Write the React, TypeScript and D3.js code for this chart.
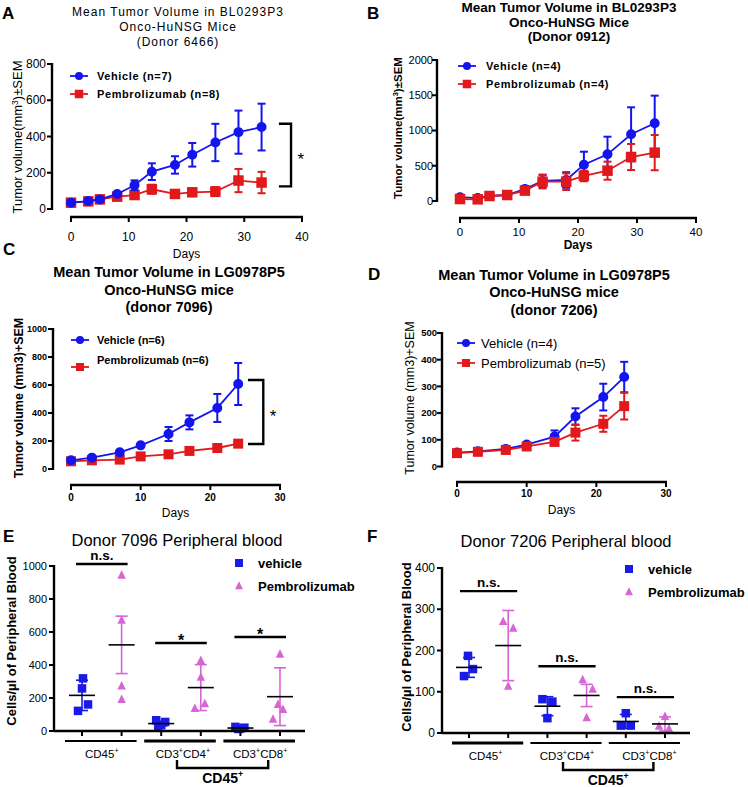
import React from "react";
import * as d3 from "d3";

const FONT = "Arial, 'Liberation Sans', Helvetica, sans-serif";
const BLUE = "#1414ee";
const RED = "#e2191c";
const PINK = "#d865d5";
const SQBLUE = "#1a1ae8";

// ---------- Panel A ----------
const daysA = [0, 3, 5, 8, 11, 14, 18, 21, 25, 29, 33];
const aVehicle = [35, 44, 53, 83, 131, 206, 243, 299, 367, 424, 452];
const aVehicleErr = [5, 5, 6, 10, 27, 46, 48, 65, 103, 119, 129];
const aPembro = [35, 42, 53, 68, 77, 109, 83, 92, 96, 157, 146];
const aPembroErr = [5, 5, 6, 10, 15, 25, 15, 20, 25, 64, 59];

// ---------- Panel B ----------
const daysB = [0, 3, 5, 8, 11, 14, 18, 21, 25, 29, 33];
const bVehicle = [52, 43, 71, 85, 170, 284, 298, 515, 662, 946, 1102];
const bVehicleErr = [10, 10, 10, 15, 40, 90, 110, 184, 250, 383, 392];
const bPembro = [28, 24, 71, 85, 147, 274, 274, 355, 430, 624, 686];
const bPembroErr = [10, 10, 10, 20, 40, 95, 118, 75, 128, 185, 250];

// ---------- Panel C ----------
const daysC = [0, 3, 7, 10, 14, 17, 21, 24];
const cVehicle = [62, 81, 119, 169, 250, 333, 436, 607];
const cVehicleErr = [6, 6, 8, 10, 50, 50, 100, 150];
const cPembro = [55, 62, 67, 90, 105, 129, 150, 181];
const cPembroErr = [5, 5, 5, 6, 6, 8, 10, 18];

// ---------- Panel D ----------
const daysD = [0, 3, 7, 10, 14, 17, 21, 24];
const dVehicle = [52, 57, 66, 82, 112, 187, 260, 335];
const dVehicleErr = [4, 4, 5, 6, 23, 31, 50, 57];
const dPembro = [50, 55, 62, 75, 92, 127, 160, 226];
const dPembroErr = [4, 4, 4, 5, 10, 30, 30, 50];

// ---------- Panel E ----------
const groups = ["CD45", "CD3CD4", "CD3CD8"];
const eVehiclePts = [[319, 258, 161, 122], [65, 55, 35, 25], [25, 20, 15, 12]];
const eVehicleJit = [[1, 0, 6, -4], [-5, 4, 0, -3], [-5, 4, 0, -2]];
const eVehicleMean = [216, 45, 18];
const eVehicleErr = [92, 15, 6];
const ePembroPts = [[943, 671, 272, 191], [427, 325, 165, 136], [465, 160, 130, 70]];
const ePembroJit = [[0, 0, 0, 0], [0, 0, 4, -6], [0, -2, 3, -7]];
const ePembroMean = [522, 263, 208];
const ePembroErr = [174, 139, 175];
const eSigText = ["n.s.", "*", "*"];
const eSigLevel = [1012, 533, 570];

// ---------- Panel F ----------
const fVehiclePts = [[187, 155, 138], [82, 76, 36], [48, 18, 18]];
const fVehicleJit = [[-1, 4, -5], [-5, 5, 0], [0, -5, 5]];
const fVehicleMean = [159, 65, 28];
const fVehicleErr = [24, 23, 17];
const fPembroPts = [[270, 254, 113], [129, 106, 37], [40, 16, 10]];
const fPembroJit = [[-5, 5, 0], [-4, 6, 0], [0, -6, 4]];
const fPembroMean = [212, 91, 22];
const fPembroErr = [85, 27, 17];
const fSigText = ["n.s.", "n.s.", "n.s."];
const fSigLevel = [344, 162, 87];

function Marker({ kind, cx, cy, size, color }: any) {
  if (kind === "circle") return <circle cx={cx} cy={cy} r={size / 2} fill={color} />;
  if (kind === "square")
    return <rect x={cx - size / 2} y={cy - size / 2} width={size} height={size} fill={color} />;
  const pts = `${cx},${cy - size * 0.6} ${cx - size / 2},${cy + size * 0.4} ${cx + size / 2},${cy + size * 0.4}`;
  return <polygon points={pts} fill={color} />;
}

function LinePanel(p: any) {
  const x = d3.scaleLinear().domain(p.xDomain).range(p.xRange);
  const y = d3.scaleLinear().domain(p.yDomain).range(p.yRange);
  const axisW = 2.4;
  return (
    <g fontFamily={FONT}>
      {p.series.map((s: any, si: number) => {
        const line = d3
          .line<number>()
          .x((_, i) => x(p.days[i]))
          .y((d) => y(d));
        return (
          <g key={si}>
            <path d={line(s.values) || ""} fill="none" stroke={s.color} strokeWidth={1.8} />
            {s.values.map((v: number, i: number) => {
              const e = s.err[i];
              const cx = x(p.days[i]);
              return (
                <g key={i} stroke={s.color} strokeWidth={2}>
                  <line x1={cx} x2={cx} y1={y(v - e)} y2={y(v + e)} />
                  <line x1={cx - 4} x2={cx + 4} y1={y(v + e)} y2={y(v + e)} />
                  <line x1={cx - 4} x2={cx + 4} y1={y(v - e)} y2={y(v - e)} />
                  <Marker kind={s.marker} cx={cx} cy={y(v)} size={s.size} color={s.color} />
                </g>
              );
            })}
          </g>
        );
      })}
      {/* y axis */}
      <line x1={p.yAxisX} x2={p.yAxisX} y1={y(p.yDomain[0]) + 1} y2={y(p.yDomain[1]) - 1} stroke="#000" strokeWidth={axisW} />
      {p.yTicks.map((t: number) => (
        <g key={t}>
          <line x1={p.yAxisX - 5} x2={p.yAxisX} y1={y(t)} y2={y(t)} stroke="#000" strokeWidth={2} />
          <text
            x={p.yAxisX - p.yTickGap}
            y={y(t)}
            dy="0.35em"
            textAnchor="end"
            fontSize={p.yTickFont}
            fontWeight={p.tickWeight}
          >
            {t}
          </text>
        </g>
      ))}
      {/* x axis */}
      <line x1={x(p.xDomain[0]) - 1} x2={x(p.xDomain[1]) + 1} y1={p.xAxisY} y2={p.xAxisY} stroke="#000" strokeWidth={axisW} />
      {p.xTicks.map((t: number) => (
        <g key={t}>
          <line x1={x(t)} x2={x(t)} y1={p.xAxisY} y2={p.xAxisY + 5} stroke="#000" strokeWidth={2} />
          <text x={x(t)} y={p.xAxisY + p.xLabelDy} textAnchor="middle" fontSize={p.tickFont} fontWeight={p.tickWeight}>
            {t}
          </text>
        </g>
      ))}
      <text
        x={(x(p.xDomain[0]) + x(p.xDomain[1])) / 2}
        y={p.daysY}
        textAnchor="middle"
        fontSize={p.daysFont}
        fontWeight={p.daysWeight}
      >
        Days
      </text>
      {p.bracket && (
        <g>
          <path
            d={`M${x(p.bracket.x0)},${y(p.bracket.top)} H${x(p.bracket.x1)} V${y(p.bracket.bottom)} H${x(p.bracket.x0)}`}
            fill="none"
            stroke="#000"
            strokeWidth={2.4}
          />
          <text
            x={x(p.bracket.starX)}
            y={(y(p.bracket.top) + y(p.bracket.bottom)) / 2 + 10}
            textAnchor="middle"
            fontSize={17}
          >
            *
          </text>
        </g>
      )}
    </g>
  );
}

function Legend({ x, y, gap, items, fontSize, fontWeight, letterSpacing, textDx }: any) {
  return (
    <g fontFamily={FONT}>
      {items.map((it: any, i: number) => {
        const yy = y + i * gap;
        const my = yy + (it.markerDy || 0);
        return (
          <g key={i}>
            <line x1={x} x2={x + 18} y1={my} y2={my} stroke={it.color} strokeWidth={1.8} />
            <Marker kind={it.marker} cx={x + 9} cy={my} size={it.size} color={it.color} />
            <text
              x={x + textDx}
              y={yy}
              dy="0.35em"
              fontSize={fontSize}
              fontWeight={fontWeight}
              letterSpacing={letterSpacing}
            >
              {it.label}
            </text>
          </g>
        );
      })}
    </g>
  );
}

function Title({ lines, cx, y0, gap, fontSize, fontWeight, letterSpacing }: any) {
  return (
    <g fontFamily={FONT}>
      {lines.map((l: string, i: number) => (
        <text
          key={i}
          x={cx}
          y={y0 + i * gap}
          textAnchor="middle"
          fontSize={fontSize}
          fontWeight={fontWeight}
          letterSpacing={letterSpacing}
        >
          {l}
        </text>
      ))}
    </g>
  );
}

function YLabel({ x, y, fontSize, fontWeight, children }: any) {
  return (
    <text
      transform={`translate(${x},${y}) rotate(-90)`}
      textAnchor="middle"
      fontFamily={FONT}
      fontSize={fontSize}
      fontWeight={fontWeight}
    >
      {children}
    </text>
  );
}

// render label with "+" superscripts: parts like ["CD3", "+", "CD4", "+"]
function SupText({ x, y, parts, fontSize, fontWeight }: any) {
  return (
    <text x={x} y={y} textAnchor="middle" fontFamily={FONT} fontSize={fontSize} fontWeight={fontWeight}>
      {parts.map((pt: string, i: number) =>
        pt === "+" ? (
          <tspan key={i} dy={-fontSize * 0.4} fontSize={fontSize * 0.62}>
            +
          </tspan>
        ) : (
          <tspan key={i} dy={i > 0 ? fontSize * 0.4 : 0}>
            {pt}
          </tspan>
        )
      )}
    </text>
  );
}

const groupParts: Record<string, string[]> = {
  CD45: ["CD45", "+"],
  CD3CD4: ["CD3", "+", "CD4", "+"],
  CD3CD8: ["CD3", "+", "CD8", "+"],
};

function ScatterPanel(p: any) {
  const keys: string[] = [];
  p.groups.forEach((g: string) => {
    keys.push(g + "-v");
    keys.push(g + "-p");
  });
  const x = d3.scalePoint<string>().domain(keys).range(p.xRange);
  const y = d3.scaleLinear().domain(p.yDomain).range(p.yRange);
  const y0 = y(0);
  const lastX = x(keys[keys.length - 1]) as number;
  const gCenter = (g: string) => ((x(g + "-v") as number) + (x(g + "-p") as number)) / 2;
  const drawGroup = (pts: number[][], jit: number[][], mean: number[], err: number[], color: string, kind: string, suffix: string) =>
    p.groups.map((g: string, gi: number) => {
      const cx = x(g + suffix) as number;
      return (
        <g key={g + suffix}>
          {pts[gi].map((v: number, i: number) => (
            <Marker key={i} kind={kind} cx={cx + jit[gi][i]} cy={y(v)} size={p.markerSize} color={color} />
          ))}
          <g stroke={color} strokeWidth={1.6}>
            <line x1={cx} x2={cx} y1={y(mean[gi] - err[gi])} y2={y(mean[gi] + err[gi])} />
            <line x1={cx - 6} x2={cx + 6} y1={y(mean[gi] + err[gi])} y2={y(mean[gi] + err[gi])} />
            <line x1={cx - 6} x2={cx + 6} y1={y(mean[gi] - err[gi])} y2={y(mean[gi] - err[gi])} />
          </g>
          <line x1={cx - 13} x2={cx + 13} y1={y(mean[gi])} y2={y(mean[gi])} stroke="#000" strokeWidth={1.6} />
        </g>
      );
    });
  return (
    <g fontFamily={FONT}>
      {drawGroup(p.vPts, p.vJit, p.vMean, p.vErr, SQBLUE, "square", "-v")}
      {drawGroup(p.pPts, p.pJit, p.pMean, p.pErr, PINK, "triangle", "-p")}
      {/* y axis */}
      <line x1={p.yAxisX} x2={p.yAxisX} y1={y0 + 1} y2={y(p.yDomain[1]) - 1} stroke="#000" strokeWidth={2.4} />
      {p.yTicks.map((t: number) => (
        <g key={t}>
          <line x1={p.yAxisX - 5} x2={p.yAxisX} y1={y(t)} y2={y(t)} stroke="#000" strokeWidth={2} />
          <text x={p.yAxisX - 7} y={y(t)} dy="0.35em" textAnchor="end" fontSize={p.yTickFont}>
            {t}
          </text>
        </g>
      ))}
      {/* x axis */}
      <line x1={p.yAxisX} x2={lastX + 25} y1={y0} y2={y0} stroke="#000" strokeWidth={2.6} />
      {keys.map((k) => (
        <line key={k} x1={x(k)} x2={x(k)} y1={y0} y2={y0 + 5} stroke="#000" strokeWidth={2} />
      ))}
      {/* group lines and labels */}
      {p.groups.map((g: string, gi: number) => (
        <g key={g}>
          <line
            x1={(x(g + "-v") as number) - 17}
            x2={(x(g + "-p") as number) + 15}
            y1={y0 + 10}
            y2={y0 + 10}
            stroke="#000"
            strokeWidth={p.groupLineW[gi]}
          />
          <SupText x={gCenter(g) + p.labelDx[gi]} y={y0 + 27} parts={groupParts[g]} fontSize={11.5} />
        </g>
      ))}
      {/* CD45+ bracket */}
      <path
        d={`M${gCenter(p.groups[1]) - 4},${y0 + 29} V${y0 + 37} H${gCenter(p.groups[2]) + 8} V${y0 + 29}`}
        fill="none"
        stroke="#000"
        strokeWidth={2.4}
      />
      <SupText
        x={(gCenter(p.groups[1]) + gCenter(p.groups[2])) / 2 + 2}
        y={y0 + 52}
        parts={["CD45", "+"]}
        fontSize={14}
        fontWeight="bold"
      />
      {/* significance */}
      {p.groups.map((g: string, gi: number) => {
        const yy = y(p.sigLevel[gi]);
        const x0 = (x(g + "-v") as number) - p.sigExt;
        const x1 = (x(g + "-p") as number) + p.sigExt;
        const isStar = p.sigText[gi] === "*";
        return (
          <g key={"s" + g}>
            <line x1={x0} x2={x1} y1={yy} y2={yy} stroke="#000" strokeWidth={2.4} />
            <text
              x={(x0 + x1) / 2}
              y={isStar ? yy + 3 : yy - 4}
              textAnchor="middle"
              fontSize={isStar ? 16 : 13.5}
              fontWeight="bold"
            >
              {p.sigText[gi]}
            </text>
          </g>
        );
      })}
      {/* legend */}
      <g>
        <Marker kind="square" cx={p.legendX} cy={p.legendY} size={8} color={SQBLUE} />
        <text x={p.legendX + 19} y={p.legendY} dy="0.35em" fontSize={13} fontWeight="bold">
          vehicle
        </text>
        <Marker kind="triangle" cx={p.legendX} cy={p.legendY + 23} size={8} color={PINK} />
        <text x={p.legendX + 19} y={p.legendY + 23} dy="0.35em" fontSize={13} fontWeight="bold">
          Pembrolizumab
        </text>
      </g>
    </g>
  );
}

function PanelLetter({ x, y, t }: any) {
  return (
    <text x={x} y={y} fontFamily={FONT} fontSize={17} fontWeight="bold">
      {t}
    </text>
  );
}

const mm3 = (
  <>
    <tspan>Tumor volume(mm</tspan>
    <tspan dy={-4} fontSize="0.65em">3</tspan>
    <tspan dy={4}>)±SEM</tspan>
  </>
);

export default function App() {
  return (
    <svg
      width={748}
      height={787}
      style={{ position: "absolute", left: 0, top: 0, background: "#fff" }}
    >
      <rect width={748} height={787} fill="#fff" />
      {/* ===== A ===== */}
      <PanelLetter x={2} y={19} t="A" />
      <Title
        lines={["Mean Tumor Volume in BL0293P3", "Onco-HuNSG Mice", "(Donor 6466)"]}
        cx={178}
        y0={16}
        gap={15}
        fontSize={12}
        fontWeight="normal"
        letterSpacing={1}
      />
      <YLabel x={22} y={137} fontSize={13}>
        {mm3}
      </YLabel>
      <LinePanel
        days={daysA}
        series={[
          { values: aPembro, err: aPembroErr, color: RED, marker: "square", size: 8.5 },
          { values: aVehicle, err: aVehicleErr, color: BLUE, marker: "circle", size: 8 },
        ]}
        xDomain={[0, 40]}
        xRange={[71, 302]}
        yDomain={[0, 800]}
        yRange={[209, 64]}
        xTicks={[0, 10, 20, 30, 40]}
        yTicks={[0, 200, 400, 600, 800]}
        yAxisX={52}
        xAxisY={217}
        tickFont={12}
        yTickFont={12}
        yTickGap={6}
        tickWeight="normal"
        xLabelDy={24}
        daysY={258}
        daysFont={12}
        daysWeight="normal"
        bracket={{ x0: 36, x1: 38.1, top: 470, bottom: 125, starX: 39.8 }}
      />
      <Legend
        x={70}
        y={76}
        gap={18}
        textDx={27}
        fontSize={11}
        fontWeight="bold"
        letterSpacing={0.6}
        items={[
          { label: "Vehicle (n=7)", color: BLUE, marker: "circle", size: 8 },
          { label: "Pembrolizumab (n=8)", color: RED, marker: "square", size: 8.5 },
        ]}
      />

      {/* ===== B ===== */}
      <PanelLetter x={367} y={19} t="B" />
      <Title
        lines={["Mean Tumor Volume in BL0293P3", "Onco-HuNSG Mice", "(Donor 0912)"]}
        cx={569}
        y0={12}
        gap={14.5}
        fontSize={13.5}
        fontWeight="bold"
      />
      <YLabel x={402} y={128} fontSize={11.5} fontWeight="bold">
        {mm3}
      </YLabel>
      <LinePanel
        days={daysB}
        series={[
          { values: bVehicle, err: bVehicleErr, color: BLUE, marker: "circle", size: 8 },
          { values: bPembro, err: bPembroErr, color: RED, marker: "square", size: 8.5 },
        ]}
        xDomain={[0, 40]}
        xRange={[460, 696]}
        yDomain={[0, 2000]}
        yRange={[201, 60]}
        xTicks={[0, 10, 20, 30, 40]}
        yTicks={[0, 500, 1000, 1500, 2000]}
        yAxisX={437}
        xAxisY={218}
        tickFont={11.5}
        yTickFont={11}
        yTickGap={4}
        tickWeight="normal"
        xLabelDy={18}
        daysY={249}
        daysFont={12}
        daysWeight="bold"
      />
      <Legend
        x={458}
        y={66}
        gap={18}
        textDx={28}
        fontSize={11}
        fontWeight="bold"
        letterSpacing={0.6}
        items={[
          { label: "Vehicle (n=4)", color: BLUE, marker: "circle", size: 8 },
          { label: "Pembrolizumab (n=4)", color: RED, marker: "square", size: 8.5 },
        ]}
      />

      {/* ===== C ===== */}
      <PanelLetter x={3} y={255} t="C" />
      <Title
        lines={["Mean Tumor Volume in LG0978P5", "Onco-HuNSG mice", "(donor 7096)"]}
        cx={169}
        y0={277}
        gap={17.5}
        fontSize={14.5}
        fontWeight="bold"
      />
      <YLabel x={23} y={398} fontSize={12.5} fontWeight="bold">
        Tumor volume (mm3)+SEM
      </YLabel>
      <LinePanel
        days={daysC}
        series={[
          { values: cPembro, err: cPembroErr, color: RED, marker: "square", size: 8 },
          { values: cVehicle, err: cVehicleErr, color: BLUE, marker: "circle", size: 8 },
        ]}
        xDomain={[0, 30]}
        xRange={[71, 280]}
        yDomain={[0, 1000]}
        yRange={[469, 329]}
        xTicks={[0, 10, 20, 30]}
        yTicks={[0, 200, 400, 600, 800, 1000]}
        yAxisX={53}
        xAxisY={485}
        tickFont={10}
        yTickFont={9}
        yTickGap={6}
        tickWeight="bold"
        xLabelDy={16}
        daysY={517}
        daysFont={12}
        daysWeight="normal"
        bracket={{ x0: 25.4, x1: 27.6, top: 636, bottom: 179, starX: 29 }}
      />
      <Legend
        x={71}
        y={340}
        gap={20}
        textDx={26}
        fontSize={11}
        fontWeight="bold"
        items={[
          { label: "Vehicle (n=6)", color: BLUE, marker: "circle", size: 8 },
          { label: "Pembrolizumab (n=6)", color: RED, marker: "square", size: 8, markerDy: 7 },
        ]}
      />

      {/* ===== D ===== */}
      <PanelLetter x={368} y={280} t="D" />
      <Title
        lines={["Mean Tumor Volume in LG0978P5", "Onco-HuNSG mice", "(donor 7206)"]}
        cx={554}
        y0={280}
        gap={17.3}
        fontSize={14.5}
        fontWeight="bold"
      />
      <YLabel x={414} y={398} fontSize={12.5}>
        Tumor volume (mm3)+SEM
      </YLabel>
      <LinePanel
        days={daysD}
        series={[
          { values: dVehicle, err: dVehicleErr, color: BLUE, marker: "circle", size: 8 },
          { values: dPembro, err: dPembroErr, color: RED, marker: "square", size: 8 },
        ]}
        xDomain={[0, 30]}
        xRange={[457, 666]}
        yDomain={[0, 500]}
        yRange={[466.5, 333]}
        xTicks={[0, 10, 20, 30]}
        yTicks={[0, 100, 200, 300, 400, 500]}
        yAxisX={442}
        xAxisY={482}
        tickFont={10}
        yTickFont={9.5}
        yTickGap={5}
        tickWeight="bold"
        xLabelDy={15}
        daysY={514}
        daysFont={12}
        daysWeight="normal"
      />
      <Legend
        x={457}
        y={343}
        gap={20}
        textDx={24}
        fontSize={13}
        fontWeight="normal"
        items={[
          { label: "Vehicle (n=4)", color: BLUE, marker: "circle", size: 8 },
          { label: "Pembrolizumab (n=5)", color: RED, marker: "square", size: 8 },
        ]}
      />

      {/* ===== E ===== */}
      <PanelLetter x={3} y={542} t="E" />
      <text x={177} y={546} textAnchor="middle" fontFamily={FONT} fontSize={16.5}>
        Donor 7096 Peripheral blood
      </text>
      <YLabel x={16} y={641} fontSize={13} fontWeight="bold">
        Cells/µl of Peripheral Blood
      </YLabel>
      <ScatterPanel
        groups={groups}
        xRange={[82, 280]}
        yDomain={[0, 1000]}
        yRange={[731, 566]}
        yTicks={[0, 200, 400, 600, 800, 1000]}
        yAxisX={54}
        yTickFont={11}
        markerSize={8.5}
        vPts={eVehiclePts}
        vJit={eVehicleJit}
        vMean={eVehicleMean}
        vErr={eVehicleErr}
        pPts={ePembroPts}
        pJit={ePembroJit}
        pMean={ePembroMean}
        pErr={ePembroErr}
        sigText={eSigText}
        sigLevel={eSigLevel}
        sigExt={6}
        groupLineW={[2, 3.2, 3.2]}
        labelDx={[0, 2, 0]}
        legendX={239}
        legendY={563}
      />

      {/* ===== F ===== */}
      <PanelLetter x={367} y={542} t="F" />
      <text x={566} y={547} textAnchor="middle" fontFamily={FONT} fontSize={16.5}>
        Donor 7206 Peripheral blood
      </text>
      <YLabel x={411} y={647} fontSize={13} fontWeight="bold">
        Cells/µl of Peripheral Blood
      </YLabel>
      <ScatterPanel
        groups={groups}
        xRange={[469, 665]}
        yDomain={[0, 400]}
        yRange={[733, 568]}
        yTicks={[0, 100, 200, 300, 400]}
        yAxisX={442}
        yTickFont={12}
        markerSize={8.5}
        vPts={fVehiclePts}
        vJit={fVehicleJit}
        vMean={fVehicleMean}
        vErr={fVehicleErr}
        pPts={fPembroPts}
        pJit={fPembroJit}
        pMean={fPembroMean}
        pErr={fPembroErr}
        sigText={fSigText}
        sigLevel={fSigLevel}
        sigExt={9}
        groupLineW={[3.2, 2, 2]}
        labelDx={[-3, 0, 4]}
        legendX={629}
        legendY={569}
      />
    </svg>
  );
}
